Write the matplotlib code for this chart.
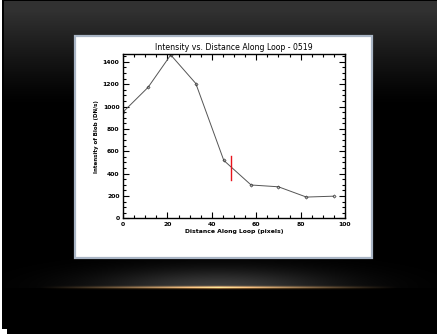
"""Blob intensity along the loop, shown on a dark slide panel."""

import numpy as np
import matplotlib
matplotlib.use('Agg')
import matplotlib.pyplot as plt
from matplotlib.patches import Rectangle
from matplotlib.ticker import MultipleLocator

# Distance along loop (pixels) and blob intensity (DN/s)
distance = [0.0, 11.3, 21.5, 32.8, 45.4, 57.7, 70.0, 82.6, 95.0]
intensity = [950, 1172, 1462, 1206, 518, 298, 282, 190, 198]

# Position of the red marker and its vertical extent
marker_x = 48.6
marker_span = [340, 560]

title = 'Intensity vs. Distance Along Loop - 0519'
xlabel = 'Distance Along Loop (pixels)'
ylabel = 'Intensity of Blob (DN/s)'

W, H = 437, 334


def slide_background():
    """ Dark gradient slide with a soft glow and an amber rule near the bottom. """
    yy, xx = np.mgrid[0:H, 0:W].astype(float)
    grey = 0.195 * np.clip(1 - (yy - 10) / 95.0, 0, 1) ** 1.2
    img = np.dstack([grey, grey, grey])

    # grey halo sitting on top of the rule
    cx, cy = 218.0, 287.0
    halo = np.exp(-(((xx - cx) / 115.0) ** 2 + ((yy - cy) / 18.0) ** 2))
    halo[yy > cy] = 0
    img += 0.24 * halo[..., None]

    # amber rule fading out to both sides
    fade = np.clip(1 - np.abs(xx - cx) / 180.0, 0, 1) ** 1.2
    band = np.exp(-((yy - cy) / 1.3) ** 2)
    amber = np.array([0.95, 0.68, 0.36])
    img += (fade * band)[..., None] * amber

    img = np.clip(img, 0, 1)
    img[0:1, :] = 0
    img[:, 2:4] = 0
    img[:, 0:2] = 1
    img[329:, 0:7] = 1
    return img


fig = plt.figure(figsize=(W / 100, H / 100), dpi=100)

bg = fig.add_axes([0, 0, 1, 1])
bg.imshow(slide_background(), aspect='auto', interpolation='bilinear')
bg.set_axis_off()

# white picture panel with a pale blue-grey frame
fig.patches.append(Rectangle((75 / W, 1 - 258 / H), 297 / W, 222 / H,
                             transform=fig.transFigure, facecolor='white',
                             edgecolor='#a9b5c5', linewidth=1.6, zorder=1))

ax = fig.add_axes([123 / W, 1 - 218.3 / H, 222 / W, 164.3 / H])
ax.set_zorder(2)
ax.plot(distance, intensity, color='#555555', linewidth=0.7,
        marker='D', markersize=1.6, markerfacecolor='none',
        markeredgecolor='#333333', markeredgewidth=0.5)
ax.plot([marker_x, marker_x], marker_span, color='#e8141c', linewidth=1.0)

ax.set_xlim(0, 100)
ax.set_ylim(0, 1470)
ax.xaxis.set_major_locator(MultipleLocator(20))
ax.xaxis.set_minor_locator(MultipleLocator(5))
ax.yaxis.set_major_locator(MultipleLocator(200))
ax.yaxis.set_minor_locator(MultipleLocator(50))
ax.tick_params(which='both', direction='in', top=True, right=True,
               width=0.8, colors='black', labelsize=4.4, pad=2.5)
ax.tick_params(which='major', length=4)
ax.tick_params(which='minor', length=2)
for lbl in ax.get_xticklabels() + ax.get_yticklabels():
    lbl.set_fontweight('bold')
for side in ax.spines.values():
    side.set_linewidth(1.0)

ax.set_title(title, fontsize=5.6, pad=3)
ax.set_xlabel(xlabel, fontsize=4.4, fontweight='bold', labelpad=1.5)
ax.set_ylabel(ylabel, fontsize=4.0, fontweight='bold', labelpad=3)

fig.savefig('out.png', dpi=100)
